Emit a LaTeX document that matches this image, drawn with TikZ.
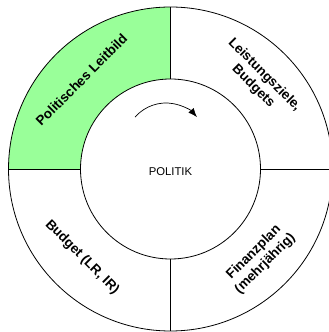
\documentclass[tikz,border=0pt]{standalone}
\usepackage{fontspec}
\setmainfont{Liberation Sans}
\usetikzlibrary{arrows.meta}
\definecolor{leitgreen}{RGB}{153,255,153}
\begin{document}
\begin{tikzpicture}[x=1pt,y=1pt,line width=0.8pt,
  ring/.style={circle,draw,inner sep=0pt,outer sep=0pt},
  seglabel/.style={font=\bfseries\fontsize{13.5}{16}\selectfont,align=center},
  centrelabel/.style={font=\fontsize{11.3}{13}\selectfont}]
\useasboundingbox (0,0) rectangle (329,332);
\clip (0,0) rectangle (329,332);
\coordinate (c) at (170.5,163);

% highlighted segment (upper left)
\fill[leitgreen] ([shift={(0,90)}]c) -- ++(0,72)
  arc[start angle=90,end angle=180,radius=162] -- ++(72,0)
  arc[start angle=180,end angle=90,radius=90] -- cycle;

% rings
\node[ring,minimum size=324pt] (outer) at (c) {};
\node[ring,minimum size=180pt] (inner) at (c) {};

% dividers
\draw (inner.north) -- (outer.north);
\draw (inner.south) -- (outer.south);
\draw (inner.west) -- (outer.west);
\draw (inner.east) -- (outer.east);

% segment labels
\node[seglabel,rotate=45] (leitbild) at ([shift={(135:126)}]c) {Politisches Leitbild};
\node[seglabel,rotate=-45] (ziele) at ([shift={(45:125)}]c) {Leistungsziele,\\Budgets};
\node[seglabel,rotate=45] (finanz) at ([shift={(-45:126)}]c) {Finanzplan\\(mehrjährig)};
\node[seglabel,rotate=-45] (budget) at ([shift={(225:125)}]c) {Budget (LR, IR)};

% centre
\node[centrelabel] (politik) at ([yshift=-2.5pt]c) {POLITIK};

% direction of the cycle
\coordinate (arcstart) at ([shift={(139:41)}]166,188);
\draw[line width=0.7pt,-{Latex[length=9pt,width=7pt]}] (arcstart)
  arc[start angle=139,end angle=41,radius=41];
\end{tikzpicture}
\end{document}
